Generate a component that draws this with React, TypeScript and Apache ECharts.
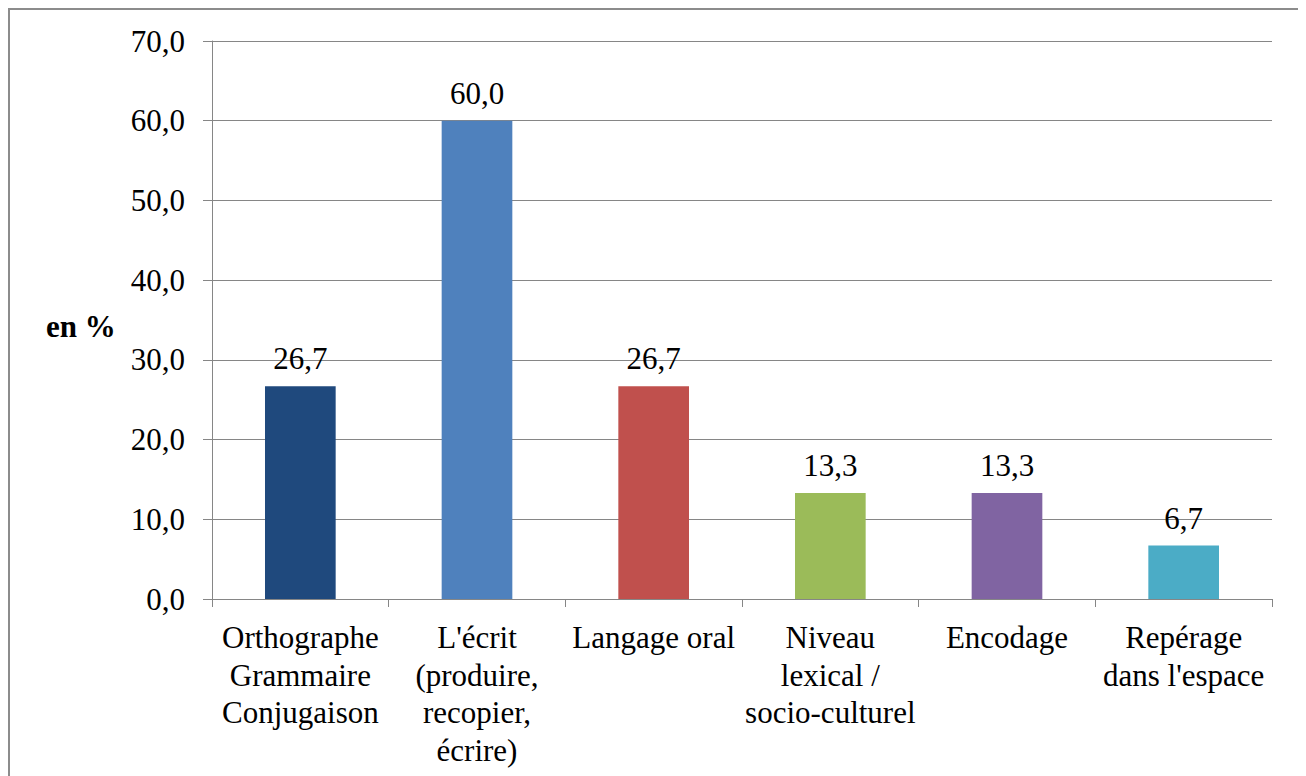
import React, { useEffect, useRef } from "react";
import * as echarts from "echarts";

const categories = [
  "Orthographe\nGrammaire\nConjugaison",
  "L'écrit\n(produire,\nrecopier,\nécrire)",
  "Langage oral",
  "Niveau\nlexical /\nsocio-culturel",
  "Encodage",
  "Repérage\ndans l'espace",
];
const values = [26.7, 60.0, 26.7, 13.3, 13.3, 6.7];
const barColors = ["#1F497D", "#4F81BD", "#C0504D", "#9BBB59", "#8064A2", "#4BACC6"];
const yAxisTitle = "en %";

const FONT = "Liberation Serif";
const fmt = (v: number) => v.toFixed(1).replace(".", ",");

export default function App() {
  const ref = useRef<HTMLDivElement>(null);
  useEffect(() => {
    if (!ref.current) return;
    const chart = echarts.init(ref.current, undefined, { renderer: "svg" });
    chart.setOption({
      animation: false,
      backgroundColor: "#ffffff",
      textStyle: { fontFamily: FONT },
      grid: { left: 202, right: 26, top: 31, bottom: 197, containLabel: false },
      graphic: [
        {
          type: "text",
          x: 36,
          y: 316,
          style: {
            text: yAxisTitle,
            fontFamily: FONT,
            fontWeight: "bold",
            fontSize: 31,
            fill: "#000",
            verticalAlign: "middle",
            align: "left",
          },
        },
      ],
      xAxis: {
        type: "category",
        data: categories,
        axisLine: { show: true, lineStyle: { color: "#868686", width: 1 } },
        axisTick: { show: true, alignWithLabel: false, length: 8, lineStyle: { color: "#868686" } },
        axisLabel: {
          interval: 0,
          color: "#000",
          fontFamily: FONT,
          fontSize: 31,
          lineHeight: 37.5,
          margin: 20,
          align: "center",
        },
      },
      yAxis: {
        type: "value",
        min: 0,
        max: 70,
        interval: 10,
        axisLine: { show: true, lineStyle: { color: "#868686", width: 1 } },
        axisTick: { show: true, length: 9, lineStyle: { color: "#868686" } },
        splitLine: { show: true, lineStyle: { color: "#868686", width: 1 } },
        axisLabel: {
          color: "#000",
          fontFamily: FONT,
          fontSize: 31,
          margin: 27,
          formatter: (v: number) => fmt(v),
        },
      },
      series: [
        {
          type: "bar",
          barWidth: "40%",
          data: values.map((v, i) => ({ value: v, itemStyle: { color: barColors[i] } })),
          label: {
            show: true,
            position: "top",
            distance: 12,
            color: "#000",
            fontFamily: FONT,
            fontSize: 31,
            formatter: (p: any) => fmt(p.value),
          },
        },
      ],
    });
    return () => chart.dispose();
  }, []);
  return (
    <div
      style={{
        width: 1292,
        height: 790,
        border: "2px solid #8c8c8c",
        boxSizing: "border-box",
        background: "#fff",
      }}
    >
      <div ref={ref} style={{ width: 1288, height: 786 }} />
    </div>
  );
}
